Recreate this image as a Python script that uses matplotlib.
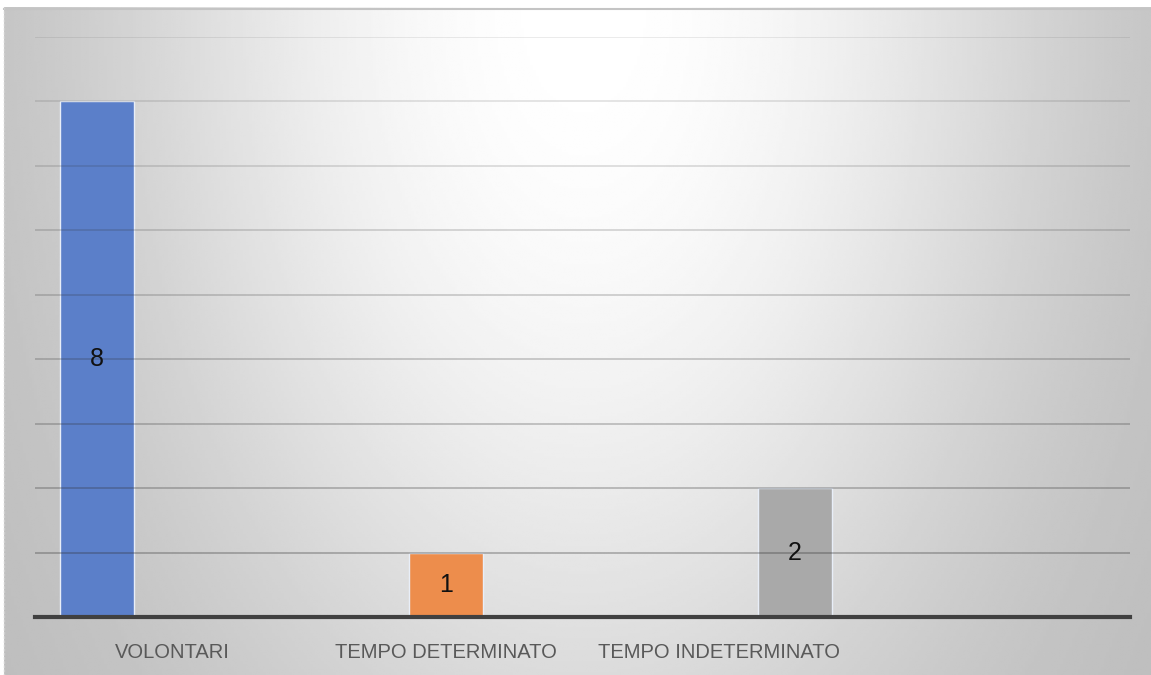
import numpy as np
import matplotlib.pyplot as plt

# data
categories = ['VOLONTARI', 'TEMPO DETERMINATO', 'TEMPO INDETERMINATO', '']
volontari = [8, 0, 0, 0]
determinato = [0, 1, 0, 0]
indeterminato = [0, 0, 2, 0]
series = [volontari, determinato, indeterminato]
colors = ['#5b7fc9', '#ed8d4c', '#a9a9a9']
grid_levels = [1, 2, 3, 4, 5, 6, 7, 8, 9]

plt.rcParams['font.family'] = ['Liberation Sans', 'DejaVu Sans']

fig = plt.figure(figsize=(11.51, 6.75), dpi=100)
fig.patch.set_facecolor('white')

# gradient background (light at top centre, grey towards the edges)
bg = fig.add_axes([4 / 1151, -0.01, 1 - 4 / 1151 + 0.01, 1.01 - 7 / 675], zorder=-10)
xs = np.linspace(0, 1, 400)
ys = np.linspace(0, 1, 240)
X, Y = np.meshgrid(xs, ys)
r2 = ((X - 0.5) / 0.5) ** 2 + (Y * 0.7) ** 2
v = 1 - 0.27 * np.tanh(r2 * 1.2)
bg.imshow(v, cmap='gray', vmin=0, vmax=1, aspect='auto', extent=[0, 1, 1, 0],
          interpolation='bilinear')
bg.set_xlim(0, 1)
bg.set_ylim(1, 0)
bg.axis('off')
# thin frame line on top and dotted left edge
bg.plot([0, 1], [0.997, 0.997], color='#c4c4c4', lw=1.5, transform=bg.transAxes, clip_on=False)
bg.plot([0, 0], [0, 1], color='#d0d0d0', lw=1, ls=(0, (2, 1)), transform=bg.transAxes, clip_on=False)

ax = fig.add_axes([35 / 1151, 1 - 617 / 675, 1095 / 1151, (617 - 37) / 675])
ax.set_facecolor('none')

x = np.arange(len(categories))
width = 0.27
offsets = [-0.275, 0, 0.275]
for vals, col, off in zip(series, colors, offsets):
    bars = ax.bar(x + off, vals, width, color=col, edgecolor='#e8eef8', linewidth=1, zorder=2)
    for b, val in zip(bars, vals):
        if val > 0:
            ax.text(b.get_x() + b.get_width() / 2, val / 2, str(val), ha='center', va='center',
                    fontsize=18, color='#111111', zorder=5)

# gridlines, darker towards the bottom
for i, lev in enumerate(grid_levels):
    a = 0.30 - 0.025 * i
    ax.axhline(lev, color='#303030', alpha=a, lw=1.4, zorder=3)

ax.set_xlim(-0.5, 3.5)
ax.set_ylim(0, 9)
ax.set_yticks([])
ax.set_xticks(x)
ax.set_xticklabels(categories, fontsize=14.5, color='#595959')
ax.tick_params(axis='x', length=0, pad=19)
for s in ['top', 'left', 'right']:
    ax.spines[s].set_visible(False)
ax.spines['bottom'].set_color('#404040')
ax.spines['bottom'].set_linewidth(3)
ax.spines['bottom'].set_zorder(4)

fig.savefig('out.png', dpi=100)
